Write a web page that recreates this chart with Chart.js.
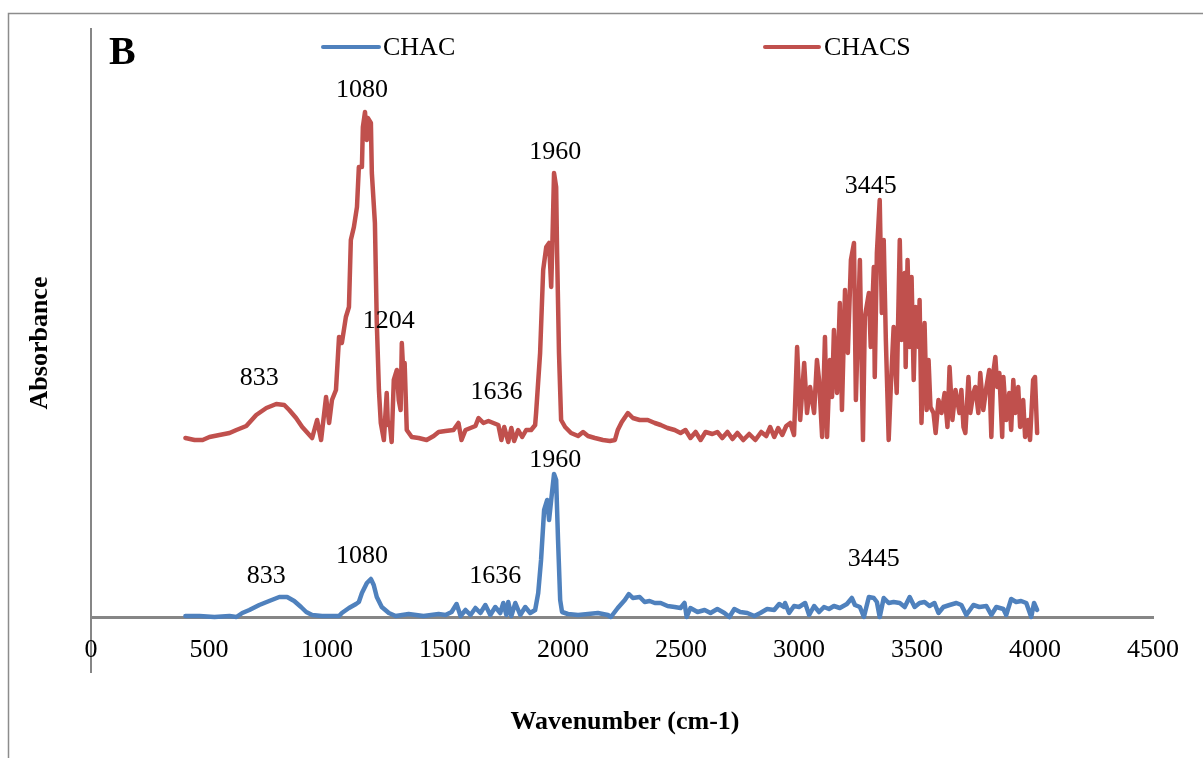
<!DOCTYPE html>
<html>
<head>
<meta charset="utf-8">
<script src="https://cdn.jsdelivr.net/npm/chart.js@4.4.1/dist/chart.umd.min.js"></script>
<style>
  body { margin: 0; background: #fff; }
  canvas { display: block; }
</style>
</head>
<body>
<canvas id="grafico" width="1203" height="758"></canvas>
<script>
// Espectro FTIR (unidades arbitrárias)
const xTicks = [0, 500, 1000, 1500, 2000, 2500, 3000, 3500, 4000, 4500];

// CHACS (vermelho)
const chacsWn = [
  400, 439, 473, 502, 544, 587, 616, 658, 700, 743, 785, 819, 840, 869, 895,
  937, 958, 975, 996, 1009, 1021, 1038, 1051, 1063, 1080, 1093, 1101, 1114, 1127, 1135,
  1148, 1152, 1161, 1169, 1173, 1186, 1190, 1203, 1211, 1220, 1228, 1241, 1253, 1258, 1266,
  1274, 1283, 1296, 1304, 1312, 1317, 1325, 1329, 1338, 1359, 1388, 1422, 1452, 1473, 1502,
  1536, 1557, 1570, 1587, 1608, 1629, 1642, 1663, 1684, 1705, 1726, 1739, 1751, 1768, 1781,
  1793, 1810, 1827, 1844, 1865, 1882, 1886, 1903, 1916, 1929, 1941, 1950, 1954, 1962, 1971,
  1975, 1983, 1992, 2009, 2034, 2064, 2085, 2106, 2135, 2169, 2199, 2220, 2232, 2249, 2275,
  2296, 2325, 2359, 2389, 2414, 2443, 2473, 2498, 2519, 2540, 2562, 2583, 2604, 2633, 2654,
  2675, 2697, 2718, 2739, 2764, 2789, 2815, 2840, 2861, 2878, 2895, 2912, 2929, 2946, 2963,
  2979, 2992, 3005, 3022, 3034, 3047, 3064, 3076, 3085, 3098, 3110, 3119, 3131, 3140, 3148,
  3161, 3173, 3182, 3195, 3207, 3220, 3233, 3241, 3258, 3271, 3279, 3296, 3304, 3317, 3321,
  3330, 3342, 3351, 3359, 3368, 3380, 3389, 3401, 3414, 3427, 3435, 3448, 3452, 3460, 3469,
  3477, 3486, 3494, 3507, 3511, 3519, 3532, 3541, 3549, 3557, 3570, 3579, 3591, 3604, 3617,
  3629, 3638, 3650, 3663, 3680, 3688, 3697, 3705, 3718, 3726, 3739, 3747, 3760, 3768, 3781,
  3794, 3806, 3815, 3823, 3832, 3840, 3849, 3861, 3866, 3878, 3891, 3899, 3908, 3916, 3929,
  3937, 3950, 3958, 3971, 3979, 3992, 4000, 4009
];
const chacsAbs = [
  179, 177, 177, 180, 182, 184, 187, 191, 202, 209, 213, 212, 207, 199, 190,
  179, 197, 177, 220, 194, 217, 227, 280, 274, 300, 310, 377, 390, 410, 450,
  450, 490, 505, 477, 499, 494, 444, 394, 294, 227, 194, 177, 224, 192, 194,
  175, 237, 247, 217, 207, 274, 237, 254, 187, 180, 179, 177, 181, 185, 186,
  187, 194, 177, 187, 189, 191, 199, 194, 196, 194, 192, 177, 190, 175, 189,
  176, 187, 180, 187, 187, 192, 204, 264, 347, 370, 374, 330, 364, 444, 430,
  364, 264, 197, 190, 184, 181, 185, 181, 179, 177, 176, 177, 187, 195, 204,
  199, 197, 197, 194, 192, 189, 187, 184, 187, 179, 185, 177, 185, 183, 185,
  179, 185, 178, 184, 177, 183, 177, 185, 181, 190, 180, 189, 182, 191, 194,
  182, 270, 197, 254, 204, 230, 204, 257, 237, 180, 280, 180, 257, 220, 287,
  224, 314, 207, 327, 264, 357, 374, 217, 357, 177, 300, 324, 270, 350, 240,
  364, 417, 304, 377, 277, 177, 230, 290, 224, 377, 277, 344, 250, 357, 270,
  340, 237, 310, 270, 317, 194, 294, 207, 257, 210, 204, 184, 217, 204, 224,
  190, 250, 197, 227, 204, 227, 190, 184, 240, 204, 224, 230, 204, 244, 207,
  230, 247, 180, 244, 260, 230, 244, 180, 240, 197, 224, 187, 237, 204, 230,
  190, 217, 180, 197, 177, 237, 240, 184
];

// CHAC (azul)
const chacWn = [
  400, 460, 523, 587, 616, 641, 671, 713, 755, 798, 831, 861, 890, 912, 937,
  979, 1051, 1063, 1093, 1123, 1135, 1148, 1169, 1186, 1198, 1211, 1232, 1262, 1291, 1346,
  1409, 1473, 1502, 1528, 1549, 1566, 1587, 1608, 1629, 1650, 1671, 1692, 1713, 1734, 1747,
  1760, 1768, 1781, 1798, 1819, 1840, 1861, 1882, 1895, 1907, 1920, 1933, 1941, 1950, 1962,
  1971, 1979, 1988, 1996, 2021, 2064, 2106, 2148, 2190, 2203, 2232, 2262, 2279, 2296, 2325,
  2346, 2367, 2389, 2414, 2443, 2473, 2498, 2515, 2524, 2540, 2570, 2600, 2625, 2654, 2684,
  2705, 2726, 2751, 2781, 2811, 2836, 2865, 2895, 2916, 2937, 2941, 2958, 2979, 3000, 3026,
  3043, 3064, 3085, 3106, 3127, 3148, 3173, 3203, 3224, 3237, 3258, 3275, 3296, 3317, 3330,
  3342, 3359, 3380, 3401, 3427, 3448, 3469, 3490, 3511, 3532, 3553, 3574, 3591, 3612, 3638,
  3667, 3688, 3709, 3739, 3764, 3794, 3815, 3836, 3866, 3878, 3899, 3920, 3941, 3963, 3984,
  3996, 4009
];
const chacAbs = [
  1, 1, 0, 1, 0, 4, 7, 12, 16, 20, 20, 16, 10, 5, 2,
  1, 1, 4, 9, 13, 15, 24, 34, 38, 32, 20, 10, 4, 1, 3,
  1, 3, 2, 5, 13, 1, 7, 2, 9, 4, 12, 2, 10, 4, 14,
  2, 15, 1, 14, 2, 10, 4, 7, 24, 57, 107, 117, 97, 117, 143,
  137, 77, 17, 5, 3, 2, 3, 4, 2, 0, 9, 17, 23, 19, 20,
  15, 16, 14, 14, 11, 10, 9, 14, 0, 9, 5, 7, 4, 8, 4,
  0, 8, 5, 4, 1, 4, 8, 7, 13, 10, 14, 4, 11, 10, 14,
  2, 11, 5, 10, 8, 11, 9, 13, 19, 12, 10, 0, 20, 19, 15,
  0, 19, 14, 15, 14, 10, 20, 10, 14, 15, 11, 14, 4, 10, 12,
  14, 12, 2, 12, 10, 11, 2, 10, 8, 2, 18, 15, 16, 14, 0,
  14, 7
];

// Rótulos dos picos
const labelText = ['1080', '1204', '833', '1636', '1960', '3445', '1960', '833', '1080', '1636', '3445'];
const labelWn = [1148, 1262, 713, 1718, 1967, 3304, 1967, 743, 1148, 1713, 3317];
const labelAbs = [527, 296, 239, 225, 465, 431, 157, 41, 61, 41, 58];

const fonte = '"Liberation Serif", "Times New Roman", serif';

function pontos(xs, ys) {
  return xs.map((x, i) => ({ x: x, y: ys[i] }));
}

const extras = {
  id: 'extras',
  beforeDraw(chart) {
    const ctx = chart.ctx;
    const a = chart.chartArea;
    ctx.save();
    ctx.fillStyle = '#fff';
    ctx.fillRect(0, 0, chart.width, chart.height);
    // moldura externa
    ctx.strokeStyle = '#8c8c8c';
    ctx.lineWidth = 1.5;
    ctx.beginPath();
    ctx.moveTo(8.5, chart.height);
    ctx.lineTo(8.5, 13.5);
    ctx.lineTo(chart.width, 13.5);
    ctx.stroke();
    // eixo vertical
    ctx.strokeStyle = '#868686';
    ctx.lineWidth = 2;
    ctx.beginPath();
    ctx.moveTo(a.left, a.top);
    ctx.lineTo(a.left, a.bottom);
    ctx.stroke();
    ctx.restore();
  },
  afterDraw(chart) {
    const ctx = chart.ctx;
    const sx = chart.scales.x;
    const sy = chart.scales.y;
    ctx.save();
    ctx.fillStyle = '#000';
    ctx.font = '26px ' + fonte;
    ctx.textAlign = 'center';
    ctx.textBaseline = 'middle';
    labelText.forEach((t, i) => {
      ctx.fillText(t, sx.getPixelForValue(labelWn[i]), sy.getPixelForValue(labelAbs[i]));
    });

    // legenda
    const ds = chart.data.datasets;
    const itens = [[323, 379, 383], [765, 819, 824]];
    ctx.lineCap = 'round';
    ctx.lineWidth = 4;
    ctx.textAlign = 'left';
    itens.forEach((it, i) => {
      ctx.strokeStyle = ds[i].borderColor;
      ctx.beginPath();
      ctx.moveTo(it[0], 47);
      ctx.lineTo(it[1], 47);
      ctx.stroke();
      ctx.fillText(ds[i].label, it[2], 48);
    });

    // letra do painel
    ctx.font = 'bold 40px ' + fonte;
    ctx.textBaseline = 'alphabetic';
    ctx.fillText('B', 109, 64);

    // títulos dos eixos
    ctx.font = 'bold 26px ' + fonte;
    ctx.textAlign = 'center';
    ctx.textBaseline = 'middle';
    ctx.fillText('Wavenumber (cm-1)', 625, 722);
    ctx.translate(40, 343);
    ctx.rotate(-Math.PI / 2);
    ctx.fillText('Absorbance', 0, 0);
    ctx.restore();
  }
};

new Chart(document.getElementById('grafico').getContext('2d'), {
  type: 'line',
  data: {
    datasets: [
      {
        label: 'CHAC',
        data: pontos(chacWn, chacAbs),
        borderColor: '#4F81BD',
        borderWidth: 4.5,
        borderJoinStyle: 'round',
        borderCapStyle: 'round',
        pointRadius: 0,
        tension: 0
      },
      {
        label: 'CHACS',
        data: pontos(chacsWn, chacsAbs),
        borderColor: '#C0504D',
        borderWidth: 4.5,
        borderJoinStyle: 'round',
        borderCapStyle: 'round',
        pointRadius: 0,
        tension: 0
      }
    ]
  },
  options: {
    responsive: false,
    animation: false,
    layout: { padding: { left: 91, top: 28, right: 50, bottom: 85 } },
    plugins: {
      legend: { display: false },
      tooltip: { enabled: false }
    },
    scales: {
      x: {
        type: 'linear',
        position: { y: 0 },
        min: 0,
        max: 4500,
        afterBuildTicks: (scale) => { scale.ticks = xTicks.map(v => ({ value: v })); },
        grid: { display: false, drawTicks: false },
        border: { display: true, color: '#868686', width: 3 },
        ticks: {
          padding: 18,
          color: '#000',
          font: { family: fonte, size: 26 },
          callback: (v) => String(v)
        }
      },
      y: {
        display: false,
        min: -56,
        max: 589
      }
    }
  },
  plugins: [extras]
});
</script>
</body>
</html>
